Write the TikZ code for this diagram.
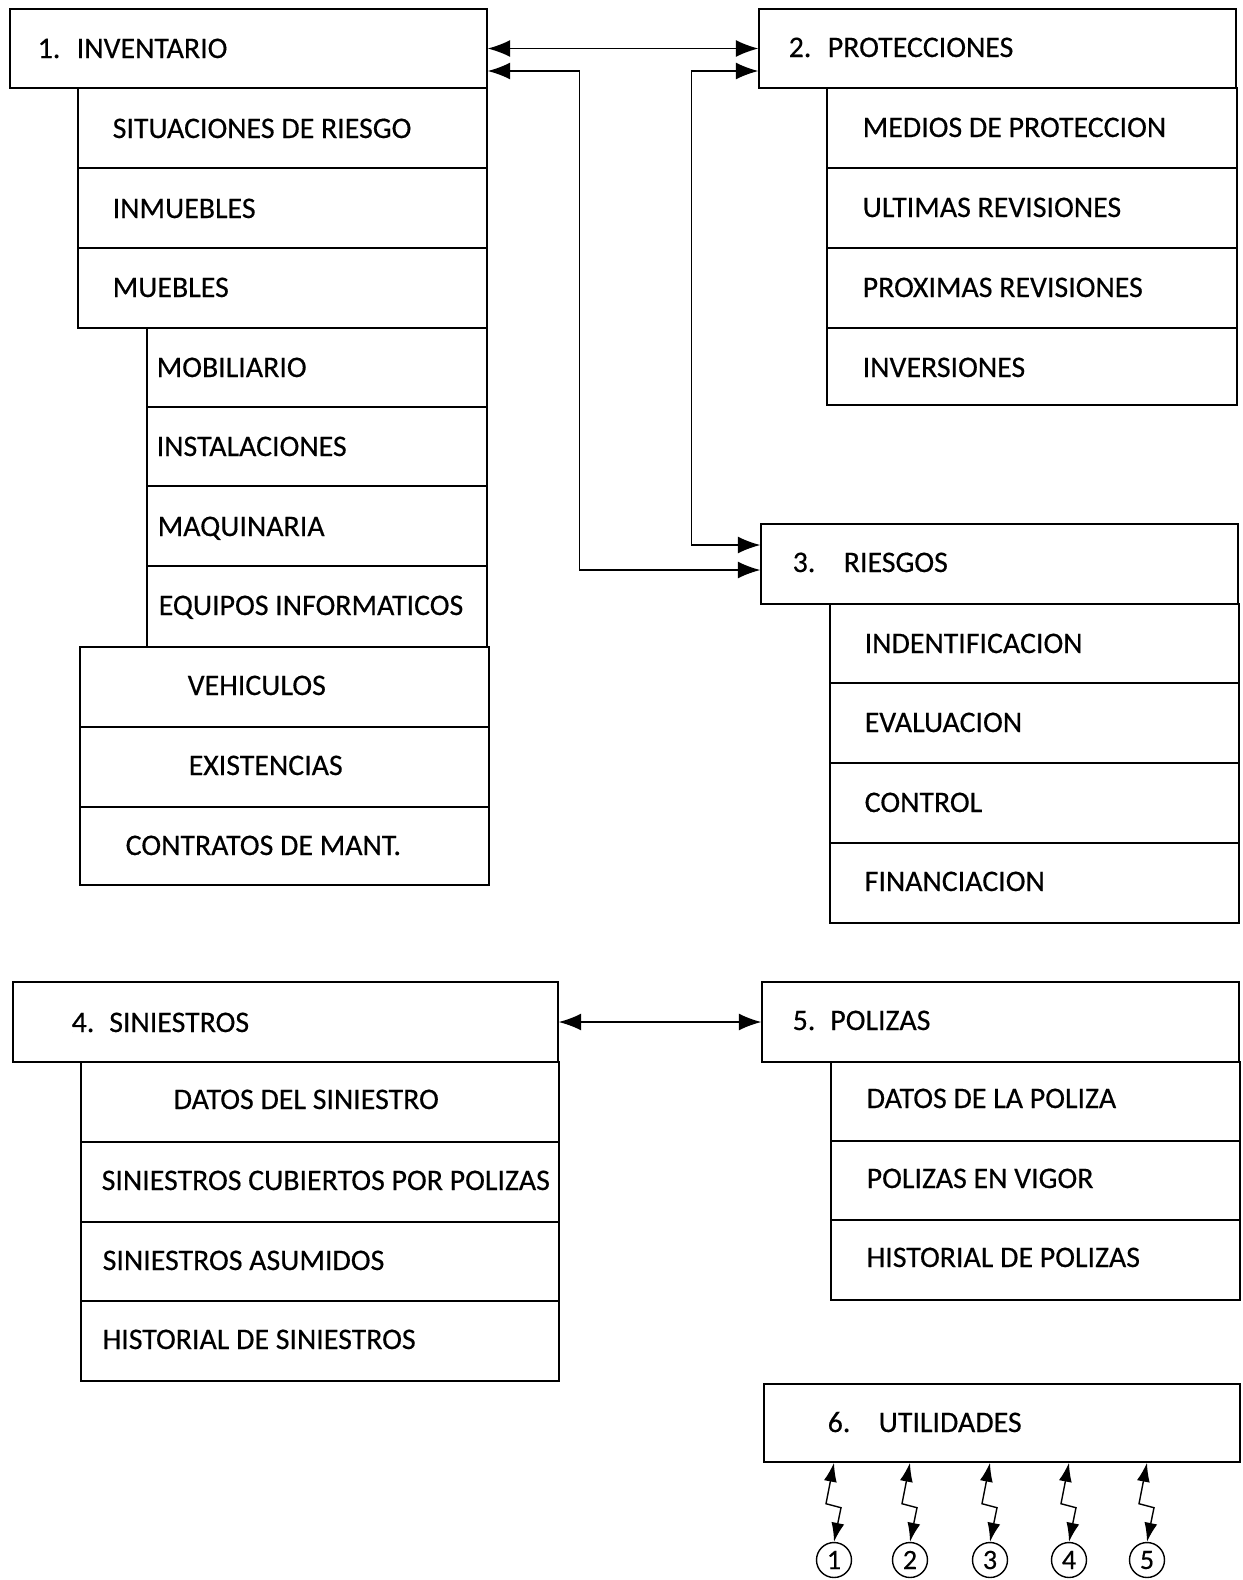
\documentclass[tikz,border=0pt]{standalone}
\usepackage{fontspec}
\setmainfont{Carlito}[FakeBold=0.4]
\usetikzlibrary{arrows.meta, fit}

\begin{document}
\begin{tikzpicture}[x=0.02cm, y=-0.02cm, line width=0.8pt]
\tikzstyle{head} = [draw, inner sep=0pt, line width=0.8pt]
\tikzstyle{item} = [anchor=base west, inner sep=0pt, font=\fontsize{17}{20}\selectfont]
\tikzstyle{num} = [circle, draw, minimum size=0.7cm, inner sep=0pt, line width=0.8pt, font=\fontsize{16}{18}\selectfont]
\tikzstyle{biarrow} = [line width=0.8pt, >={Latex[length=0.45cm, width=0.34cm]}, <->]
\tikzstyle{bolt} = [line width=0.8pt, >={Latex[length=0.38cm, width=0.26cm]}, <->]

\useasboundingbox (0,0) rectangle (1243,1580);

% 1. inventario
\node (inv) [head, fit={(10,9) (487,88)}] {};
\node (invt) [item] at (37,58) {1.\hspace{0.55em}INVENTARIO};
\draw (78,88) rectangle (487,168);
\draw (78,168) rectangle (487,248);
\draw (78,248) rectangle (487,328);
\draw (147,328) rectangle (487,407);
\draw (147,407) rectangle (487,486);
\draw (147,486) rectangle (487,566);
\draw (147,566) rectangle (487,647);
\draw (80,647) rectangle (489,727);
\draw (80,727) rectangle (489,807);
\draw (80,807) rectangle (489,885);
\node (sit) [item] at (112,138) {SITUACIONES DE RIESGO};
\node (inm) [item] at (112,218) {INMUEBLES};
\node (mue) [item] at (112,297) {MUEBLES};
\node (mob) [item] at (156,377) {MOBILIARIO};
\node (ins) [item] at (156,456) {INSTALACIONES};
\node (maq) [item] at (157,536) {MAQUINARIA};
\node (equ) [item] at (158,615) {EQUIPOS INFORMATICOS};
\node (veh) [item] at (187,695) {VEHICULOS};
\node (exi) [item] at (188,775) {EXISTENCIAS};
\node (con) [item] at (125,855) {CONTRATOS DE MANT.};

% 2. protecciones
\node (prot) [head, fit={(759,9) (1236,88)}] {};
\node (prott) [item] at (788,57) {2.\hspace{0.55em}PROTECCIONES};
\draw (827,88) rectangle (1237,168);
\draw (827,168) rectangle (1237,248);
\draw (827,248) rectangle (1237,328);
\draw (827,328) rectangle (1237,405);
\node (med) [item] at (862,137) {MEDIOS DE PROTECCION};
\node (ult) [item] at (862,217) {ULTIMAS REVISIONES};
\node (pro) [item] at (862,297) {PROXIMAS REVISIONES};
\node (inv2) [item] at (862,377) {INVERSIONES};

% 3. riesgos
\node (ries) [head, fit={(761,524) (1238,604)}] {};
\node (riest) [item] at (792,572) {3.\hspace{0.95em}RIESGOS};
\draw (830,604) rectangle (1239,683);
\draw (830,683) rectangle (1239,763);
\draw (830,763) rectangle (1239,843);
\draw (830,843) rectangle (1239,923);
\node (ide) [item] at (864,653) {INDENTIFICACION};
\node (eva) [item] at (864,732) {EVALUACION};
\node (ctl) [item] at (864,812) {CONTROL};
\node (fin) [item] at (864,891) {FINANCIACION};

% 4. siniestros
\node (sin) [head, fit={(13,982) (558,1062)}] {};
\node (sint) [item] at (71,1032) {4.\hspace{0.5em}SINIESTROS};
\draw (81,1062) rectangle (559,1142);
\draw (81,1142) rectangle (559,1222);
\draw (81,1222) rectangle (559,1301);
\draw (81,1301) rectangle (559,1381);
\node (dsi) [item] at (173,1109) {DATOS DEL SINIESTRO};
\node (scp) [item] at (101,1190) {SINIESTROS CUBIERTOS POR POLIZAS};
\node (sas) [item] at (102,1270) {SINIESTROS ASUMIDOS};
\node (hsi) [item] at (102,1349) {HISTORIAL DE SINIESTROS};

% 5. polizas
\node (pol) [head, fit={(762,982) (1239,1062)}] {};
\node (polt) [item] at (792,1030) {5.\hspace{0.5em}POLIZAS};
\draw (831,1062) rectangle (1240,1141);
\draw (831,1141) rectangle (1240,1220);
\draw (831,1220) rectangle (1240,1300);
\node (dpo) [item] at (866,1108) {DATOS DE LA POLIZA};
\node (pev) [item] at (866,1188) {POLIZAS EN VIGOR};
\node (hpo) [item] at (866,1267) {HISTORIAL DE POLIZAS};

% 6. utilidades
\node (util) [head, fit={(764,1384) (1240,1462)}] {};
\node (utilt) [item] at (827,1432) {6.\hspace{0.95em}UTILIDADES};
\node (c1) [num] at (834,1560) {1};
\node (c2) [num] at (910,1560) {2};
\node (c3) [num] at (990,1560) {3};
\node (c4) [num] at (1069,1560) {4};
\node (c5) [num] at (1147,1560) {5};

% links
\draw [biarrow] (inv.east) -- (prot.west);
\draw [biarrow] ([yshift=-0.45cm]inv.east) -- ++(92,0) |- ([yshift=-0.12cm]ries.west);
\draw [biarrow] ([yshift=-0.45cm]prot.west) -- ++(-67,0) |- ([yshift=0.38cm]ries.west);
\draw [biarrow] (sin.east) -- (pol.west);

\draw [bolt] (c1.north |- util.south) -- ++(-8,41) -- ++(15,4) -- (c1.north);
\draw [bolt] (c2.north |- util.south) -- ++(-8,41) -- ++(15,4) -- (c2.north);
\draw [bolt] (c3.north |- util.south) -- ++(-8,41) -- ++(15,4) -- (c3.north);
\draw [bolt] (c4.north |- util.south) -- ++(-8,41) -- ++(15,4) -- (c4.north);
\draw [bolt] (c5.north |- util.south) -- ++(-8,41) -- ++(15,4) -- (c5.north);

\end{tikzpicture}
\end{document}
